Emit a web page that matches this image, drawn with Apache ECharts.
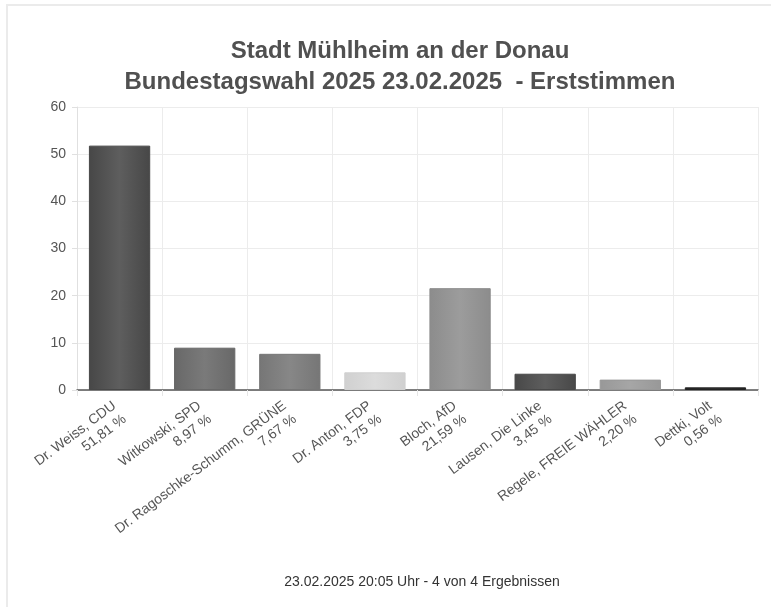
<!DOCTYPE html>
<html>
<head>
<meta charset="utf-8">
<script src="https://cdn.jsdelivr.net/npm/echarts@6/dist/echarts.min.js"></script>
<style>html,body{margin:0;padding:0;background:#fff}#c{width:771px;height:607px}</style>
</head>
<body>
<div id="c"></div>
<script>
const candidates = ['Dr. Weiss, CDU','Witkowski, SPD','Dr. Ragoschke-Schumm, GRÜNE','Dr. Anton, FDP','Bloch, AfD','Lausen, Die Linke','Regele, FREIE WÄHLER','Dettki, Volt'];
const values = [51.81, 8.97, 7.67, 3.75, 21.59, 3.45, 2.20, 0.56];
const barColors = ['#5e5e5e','#7a7a7a','#878787','#dcdcdc','#9c9c9c','#5e5e5e','#a6a6a6','#333333'];
const edgeColors = ['#474747','#686868','#767676','#d0d0d0','#8c8c8c','#484848','#989898','#222222'];
const yTicks = [0,10,20,30,40,50,60];
const titleText = 'Stadt Mühlheim an der Donau\nBundestagswahl 2025 23.02.2025  - Erststimmen';
const footerText = '23.02.2025 20:05 Uhr - 4 von 4 Ergebnissen';

const FONT = 'Liberation Sans, Arial, sans-serif';
const chart = echarts.init(document.getElementById('c'), null, {renderer:'canvas'});
const fmt = v => v.toFixed(2).replace('.', ',') + ' %';

chart.setOption({
  animation: false,
  backgroundColor: '#fff',
  graphic: [{
    type: 'rect', silent: true, z: -1,
    shape: {x: 7, y: 5, width: 900, height: 800},
    style: {fill: 'none', stroke: '#ebebeb', lineWidth: 2}
  }],
  title: [{
    text: titleText,
    left: 395, top: 31, textAlign: 'center',
    textStyle: {fontFamily: FONT, fontSize: 24, fontWeight: 'bold', color: '#505050', lineHeight: 31}
  }, {
    text: footerText,
    left: 417, top: 570, textAlign: 'center',
    textStyle: {fontFamily: FONT, fontSize: 14, fontWeight: 'normal', color: '#333'}
  }],
  grid: {left: 77, right: 13, top: 107, bottom: 217, containLabel: false},
  xAxis: {
    type: 'category',
    data: candidates,
    boundaryGap: true,
    axisLine: {show: true, lineStyle: {color: '#555', width: 1.5}},
    axisTick: {show: true, length: 6, lineStyle: {color: '#e6e6e6'}},
    splitLine: {show: true, interval: 0, lineStyle: {color: '#ececec'}},
    axisLabel: {
      interval: 0, rotate: 37, margin: 21,
      fontFamily: FONT, fontSize: 14, color: '#555', lineHeight: 17,
      formatter: (name, idx) => name + '\n' + fmt(values[idx])
    }
  },
  yAxis: {
    type: 'value', min: yTicks[0], max: yTicks[yTicks.length-1], interval: 10,
    axisLine: {show: true, lineStyle: {color: '#e0e0e0'}},
    axisTick: {show: true, length: 5, lineStyle: {color: '#e0e0e0'}},
    splitLine: {show: true, lineStyle: {color: '#ececec'}},
    axisLabel: {fontFamily: FONT, fontSize: 14, color: '#555', margin: 11}
  },
  series: [{
    type: 'bar',
    barCategoryGap: '28%',
    data: values.map((v, i) => ({
      value: v,
      itemStyle: {
        color: new echarts.graphic.LinearGradient(0, 0, 1, 0, [
          {offset: 0, color: edgeColors[i]},
          {offset: 0.5, color: barColors[i]},
          {offset: 1, color: edgeColors[i]}
        ]),
        borderColor: edgeColors[i], borderWidth: 1
      }
    }))
  }]
});
</script>
</body>
</html>
